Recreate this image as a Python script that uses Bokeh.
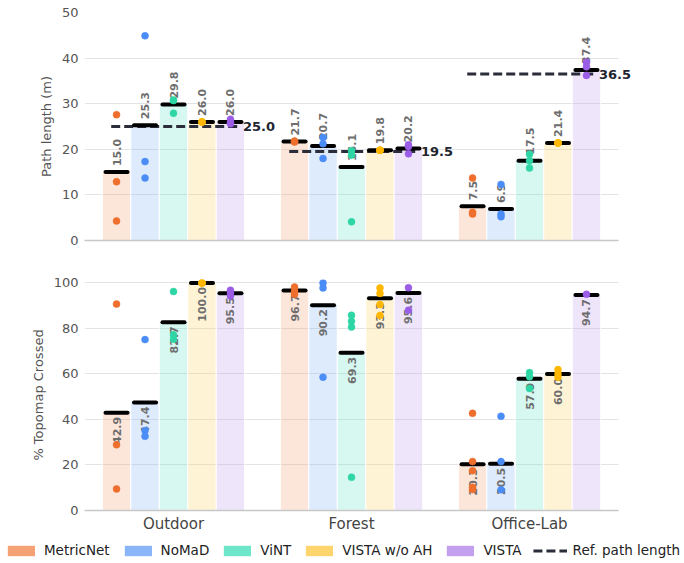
import math
from bokeh.plotting import figure
from bokeh.layouts import column
from bokeh.models import (ColumnDataSource, Range1d, FixedTicker, Legend, LegendItem, Label)
from bokeh.embed import file_html
from bokeh.resources import INLINE
from bokeh.core.properties import value

# ---- data -----------------------------------------------------------------
scenes = ["Outdoor", "Forest", "Office-Lab"]
methods = ["MetricNet", "NoMaD", "ViNT", "VISTA w/o AH", "VISTA"]

# mean path length (m), one row per scene, one entry per method
path_mean = [
    [15.0, 25.3, 29.8, 26.0, 26.0],
    [21.7, 20.7, 16.1, 19.8, 20.2],
    [7.5, 6.9, 17.5, 21.4, 37.4],
]
# reference path length per scene
ref_path = [25.0, 19.5, 36.5]

# individual runs, path length
path_runs = [
    [[27.6, 12.9, 4.3], [44.9, 17.3, 13.7], [30.8, 30.7, 27.9], [26.0, 26.0, 26.0], [26.6, 25.9, 25.6]],
    [[21.7, 21.8, 21.6], [22.6, 21.2, 18.0], [19.7, 18.7, 4.1], [19.8, 19.8, 19.8], [21.0, 20.6, 19.0]],
    [[13.7, 6.2, 5.8], [12.3, 5.8, 5.2], [18.9, 17.5, 15.9], [21.4, 21.4, 21.4], [39.1, 38.1, 36.2]],
]

# mean % of topomap crossed
topo_mean = [
    [42.9, 47.4, 82.7, 100.0, 95.5],
    [96.7, 90.2, 69.3, 93.3, 95.6],
    [20.3, 20.5, 57.9, 60.0, 94.7],
]
# individual runs, % of topomap crossed
topo_runs = [
    [[90.7, 28.9, 9.5], [75.1, 35.1, 32.6], [96.2, 77.2, 75.3], [100.0, 100.0, 100.0], [96.8, 95.5, 94.3]],
    [[98.2, 96.5, 95.0], [100.0, 97.8, 58.6], [85.8, 83.2, 80.6, 14.6], [97.8, 95.4, 90.5, 85.7], [97.9, 88.0]],
    [[42.7, 21.5, 17.5, 10.2, 9.2], [41.4, 21.5, 9.1], [60.6, 58.8, 53.6], [61.9, 60.0, 58.6], [95.0]],
]

# ---- styling --------------------------------------------------------------
base_colors = ["#F4A275", "#8AB6F9", "#6EE6C9", "#FED46C", "#C3A0EF"]
dot_colors = ["#EE6F2D", "#4A8DF6", "#2FD6A5", "#FFB703", "#9B5CE6"]
FONT = "DejaVu Sans"
BAR_W = 0.16
W = 684
X_LO, X_HI = -0.5, 2.5          # extent of the axis line and grid
X_VIEW_HI = 2.837               # leaves room for the reference labels


def offsets(i, m):
    return i + (m - 2) * BAR_W


def build_sources(means, runs):
    bars = dict(x=[], top=[], color=[], x0=[], x1=[], label=[])
    dots = dict(x=[], y=[], color=[])
    for i in range(len(scenes)):
        for m in range(len(methods)):
            x = offsets(i, m)
            v = means[i][m]
            bars["x"].append(x)
            bars["top"].append(v)
            bars["color"].append(base_colors[m])
            bars["x0"].append(x - 0.062)
            bars["x1"].append(x + 0.062)
            bars["label"].append(f"{v:.1f}")
            for r in runs[i][m]:
                dots["x"].append(x)
                dots["y"].append(r)
                dots["color"].append(dot_colors[m])
    return ColumnDataSource(bars), ColumnDataSource(dots)


def base_figure(height, y_end, ticks, ylabel, top_border, bottom_border):
    p = figure(width=W, height=height, output_backend="svg", toolbar_location=None,
               x_range=Range1d(X_LO, X_VIEW_HI), y_range=Range1d(0, y_end),
               min_border_left=84, min_border_right=6,
               min_border_top=top_border, min_border_bottom=bottom_border)
    p.outline_line_color = None
    p.xgrid.grid_line_color = None
    p.ygrid.grid_line_color = "#e3e3e3"
    p.ygrid.grid_line_width = 1.2
    p.ygrid.cross_bounds = (X_LO, X_HI)
    p.yaxis.ticker = FixedTicker(ticks=ticks)
    p.yaxis.axis_line_color = None
    p.yaxis.major_tick_line_color = None
    p.yaxis.minor_tick_line_color = None
    p.yaxis.major_tick_in = 0
    p.yaxis.major_tick_out = 0
    p.yaxis.major_label_standoff = 6
    p.yaxis.major_label_text_font = FONT
    p.yaxis.major_label_text_font_size = "13px"
    p.yaxis.major_label_text_color = "#555555"
    p.yaxis.axis_label = ylabel
    p.yaxis.axis_label_standoff = 5
    p.yaxis.axis_label_text_font = FONT
    p.yaxis.axis_label_text_font_size = "13px"
    p.yaxis.axis_label_text_font_style = "normal"
    p.yaxis.axis_label_text_color = "#555555"
    p.xaxis.bounds = (X_LO, X_HI)
    p.xaxis.ticker = FixedTicker(ticks=[0, 1, 2])
    p.xaxis.major_label_overrides = {0: scenes[0], 1: scenes[1], 2: scenes[2]}
    p.xaxis.axis_line_color = "#c8c8c8"
    p.xaxis.axis_line_width = 1.5
    p.xaxis.major_tick_line_color = None
    p.xaxis.minor_tick_line_color = None
    p.xaxis.major_tick_in = 0
    p.xaxis.major_tick_out = 0
    p.xaxis.major_label_text_font = FONT
    p.xaxis.major_label_text_font_size = "15px"
    p.xaxis.major_label_text_color = "#444444"
    p.xaxis.major_label_standoff = 4
    return p


def draw_bars(p, bars, label_above):
    p.vbar(x="x", top="top", bottom=0, width=BAR_W, source=bars,
           fill_color="color", fill_alpha=0.28, line_color="white", line_width=1)
    p.text(x="x", y="top", text="label", source=bars, angle=math.pi / 2,
           text_align="left" if label_above else "right", text_baseline="middle",
           y_offset=-6 if label_above else 4,
           text_font=value(FONT), text_font_size="11px", text_font_style="bold",
           text_color="#6e6e6e")


def draw_means_and_runs(p, bars, dots):
    p.segment(x0="x0", x1="x1", y0="top", y1="top", source=bars,
              line_color="black", line_width=4, line_cap="round")
    p.scatter(x="x", y="y", source=dots, size=7, fill_color="color",
              line_color="color", line_width=0.5)


# ---- top panel: path length ----------------------------------------------
p1 = base_figure(252, 50, [0, 10, 20, 30, 40, 50], "Path length (m)", 12, 12)
p1.xaxis.ticker = FixedTicker(ticks=[])
bars1, dots1 = build_sources(path_mean, path_runs)
draw_bars(p1, bars1, label_above=True)

ref_src = ColumnDataSource(dict(
    x0=[i - 0.35 for i in range(len(scenes))],
    x1=[i + 0.37 for i in range(len(scenes))],
    y=ref_path,
))
p1.segment(x0="x0", x1="x1", y0="y", y1="y", source=ref_src,
           line_color="#2b2d3a", line_width=3, line_dash="9 4")
for i, r in enumerate(ref_path):
    p1.add_layout(Label(x=i + 0.39, y=r, text=f"{r:.1f}", text_align="left",
                        text_baseline="middle", text_font=FONT, text_font_size="13px",
                        text_font_style="bold", text_color="#22252f"))
draw_means_and_runs(p1, bars1, dots1)

# ---- bottom panel: % topomap crossed --------------------------------------
p2 = base_figure(285, 101.5, [0, 20, 40, 60, 80, 100], "% Topomap Crossed", 27, 27)
bars2, dots2 = build_sources(topo_mean, topo_runs)
draw_bars(p2, bars2, label_above=False)
draw_means_and_runs(p2, bars2, dots2)

# ---- shared legend strip --------------------------------------------------
pl = figure(width=W, height=26, output_backend="svg", toolbar_location=None,
            x_range=Range1d(0, 1), y_range=Range1d(0, 1),
            x_axis_location=None, y_axis_location=None, min_border=0)
pl.frame_align = False
pl.outline_line_color = None
pl.grid.visible = False
items = []
for m, name in enumerate(methods):
    r = pl.vbar(x=[-10], top=[0], width=0.1, fill_color=base_colors[m], line_color=None)
    items.append(LegendItem(label=name, renderers=[r]))
lr = pl.line(x=[-10, -9], y=[0, 0], line_color="#2b2d3a", line_width=3, line_dash="9 4")
items.append(LegendItem(label="Ref. path length", renderers=[lr]))
legend = Legend(items=items, orientation="horizontal", location="center",
                glyph_width=34, glyph_height=13, label_standoff=6, spacing=11,
                padding=0, margin=0, border_line_color=None, background_fill_alpha=0,
                label_text_font=FONT, label_text_font_size="13.5px",
                label_text_color="#222222")
pl.add_layout(legend, "center")

layout = column(p1, p2, pl, spacing=0)
open("out.html", "w").write(file_html(layout, INLINE))
